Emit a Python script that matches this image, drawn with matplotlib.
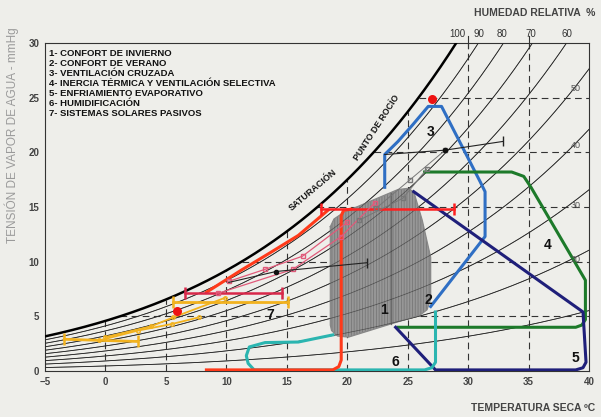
import numpy as np
import matplotlib
matplotlib.use("Agg")
import matplotlib.pyplot as plt
from matplotlib.patches import Polygon

plt.rcParams['font.family'] = ['Liberation Sans', 'DejaVu Sans']
plt.rcParams['hatch.linewidth'] = 0.6

# --- data --------------------------------------------------------------
x_ticks = [-5, 0, 5, 10, 15, 20, 25, 30, 35, 40]
y_ticks = [0, 5, 10, 15, 20, 25, 30]
rh_levels = [10, 20, 30, 40, 50, 60, 70, 80, 90]
rh_top_labels = ["100", "90", "80", "70", "60"]
rh_top_x = [29.1, 30.9, 32.8, 35.2, 38.2]
rh_side_labels = ["50", "40", "30", "20"]
rh_side_p = [25.8, 20.6, 15.1, 10.2]

legend_items = [
    "1- CONFORT DE INVIERNO",
    "2- CONFORT DE VERANO",
    "3- VENTILACIÓN CRUZADA",
    "4- INERCIA TÉRMICA Y VENTILACIÓN SELECTIVA",
    "5- ENFRIAMIENTO EVAPORATIVO",
    "6- HUMIDIFICACIÓN",
    "7- SISTEMAS SOLARES PASIVOS",
]

# comfort zone (1 + 2), outline T, p
comfort_T = [18.6, 18.9, 19.7, 24.2, 25.0, 25.5, 26.2, 26.9, 26.9, 26.6, 26.0, 23.6, 20.1, 19.2, 18.7, 18.6]
comfort_p = [13.2, 13.9, 14.5, 16.6, 16.7, 16.4, 13.8, 10.4, 6.6, 5.6, 5.1, 4.3, 3.1, 3.2, 3.7, 4.2]
comfort_split_T = 23.6

# zone 3 ventilacion cruzada (blue)
vent_T = [23.1, 23.1, 24.2, 25.4, 26.7, 27.8, 31.0, 31.4, 31.4, 26.9]
vent_p = [16.8, 19.8, 21.0, 22.5, 24.2, 24.2, 17.3, 16.4, 12.3, 5.9]

# zone 4 inercia termica (green)
inercia_T = [26.4, 33.6, 34.6, 35.2, 39.7, 39.7, 39.4, 38.9, 24.2]
inercia_p = [18.2, 18.2, 17.8, 16.8, 8.3, 4.7, 4.2, 4.0, 4.0]

# zone 5 enfriamiento evaporativo (navy)
evap_T = [25.5, 39.5, 39.75, 39.5, 38.9, 27.3, 24.0]
evap_p = [16.4, 5.4, 0.8, 0.3, 0.1, 0.1, 4.0]

# zone 6 humidificacion (teal)
humid_T = [18.8, 15.95, 13.2, 11.9, 11.65, 11.8, 12.3, 26.4, 27.0, 27.3, 27.3]
humid_p = [3.3, 2.65, 2.6, 2.2, 1.4, 0.7, 0.1, 0.1, 0.3, 0.8, 5.4]

# zone 7 sistemas solares pasivos (red)
solar_curve_T = [8.35, 11.2, 13.6, 15.95, 18.4]
solar_curve_p = [7.2, 9.2, 10.8, 12.4, 14.7]
solar_box_T = [8.35, 18.8, 19.3, 19.5, 19.5, 19.7, 20.3]
solar_box_p = [0.1, 0.1, 0.4, 1.0, 14.2, 14.7, 14.8]
solar_top_T = [17.85, 28.8]
solar_top_p = [14.8, 14.8]

# monthly climate lines
yellow_bars = [([-3.4, 2.7], [2.9, 2.7]), ([5.6, 15.1], [6.3, 6.3])]
yellow_lines = [([0.0, 3.8, 5.6, 9.9], [3.1, 4.1, 4.9, 6.7]),
                ([-0.5, 2.7, 5.5, 7.7], [2.8, 3.7, 4.3, 4.9])]
crimson_bars = [([6.6, 14.6], [7.1, 7.1])]
pink_lines = [([9.3, 15.5, 19.5, 22.3], [7.1, 9.3, 12.3, 15.4]),
              ([10.2, 13.2, 16.3, 20.0], [8.2, 9.3, 10.5, 13.6])]
black_lines = [([10.2, 14.1, 21.6], [8.1, 9.1, 9.9]),
               ([23.1, 28.1, 32.9], [19.8, 20.2, 21.0])]
gray_lines = [([22.4, 25.2, 28.1], [14.9, 17.5, 20.2]),
              ([21.0, 24.6, 26.6], [13.8, 15.8, 18.5])]

red_dots_T = [5.9, 27.0]
red_dots_p = [5.5, 24.9]

zone_labels = ["1", "2", "3", "4", "5", "6", "7"]
zone_T = [23.0, 26.7, 26.9, 36.6, 38.9, 24.0, 13.6]
zone_p = [5.6, 6.5, 21.9, 11.5, 1.2, 0.8, 5.1]


def psat(t):
    # saturation vapour pressure, mmHg
    return 0.750062 * 6.112 * np.exp(17.62 * t / (243.12 + t))


bg = '#eeeeea'
fig = plt.figure(figsize=(6.01, 4.17), dpi=100, facecolor=bg)
ax = fig.add_axes([0.0749, 0.1103, 0.9052, 0.7866], facecolor=bg)
ax.set_xlim(-5, 40)
ax.set_ylim(0, 30)

T = np.linspace(-5, 40, 400)
for rh in rh_levels:
    ax.plot(T, rh / 100 * psat(T), color='#222222', lw=0.6, zorder=2)
ax.plot(T, psat(T), color='black', lw=1.8, zorder=3)

# dashed grid under the saturation curve
for t in x_ticks[1:-1]:
    top = min(psat(t), 30)
    ax.plot([t, t], [0, top], color='#333333', lw=0.8, ls=(0, (6, 4)), zorder=2)
for t in [30, 35]:
    ax.plot([t, t], [29.5, 30.6], color='#333333', lw=0.8, clip_on=False, zorder=2)
for p in y_ticks[1:-1]:
    t0 = np.interp(p, psat(T), T)
    ax.plot([t0, 40], [p, p], color='#333333', lw=0.8, ls=(0, (6, 4)), zorder=2)

# comfort zones
ax.add_patch(Polygon(np.column_stack([comfort_T, comfort_p]), closed=True,
                     facecolor='#979797', edgecolor='none', zorder=4))
ax.add_patch(Polygon(np.column_stack([comfort_T, comfort_p]), closed=True,
                     facecolor='none', edgecolor='#777777', hatch='||||||', lw=0, zorder=4))
ax.plot(comfort_T + comfort_T[:1], comfort_p + comfort_p[:1], color='#888888', lw=0.9, zorder=4)
ax.plot([comfort_split_T, comfort_split_T], [4.3, 16.3], color='#6a6a6a', lw=0.9, zorder=4)

# RH lines show through the comfort zone
for rh in rh_levels:
    ax.plot(T, rh / 100 * psat(T), color='#222222', lw=0.5, alpha=0.6, zorder=4)

ax.plot(vent_T, vent_p, color='#2f6fc4', lw=2.2, zorder=6, solid_joinstyle='round')
ax.plot(inercia_T, inercia_p, color='#1d7a2a', lw=2.2, zorder=6, solid_joinstyle='round')
ax.plot(evap_T, evap_p, color='#1f1f7a', lw=2.2, zorder=6, solid_joinstyle='round')
ax.plot(humid_T, humid_p, color='#2bb5b0', lw=2.2, zorder=6, solid_joinstyle='round')
ax.plot(solar_curve_T, solar_curve_p, color='#ff3a1a', lw=2.2, zorder=6)
ax.plot(solar_box_T, solar_box_p, color='#ff3a1a', lw=2.2, zorder=6, solid_joinstyle='round')
ax.plot(solar_top_T, solar_top_p, color='#ff2020', lw=1.8, zorder=6,
        marker='|', markersize=9, markeredgewidth=1.8)

# monthly climate lines
for xs, ys in yellow_bars:
    ax.plot(xs, ys, color='#f2b21e', lw=2.0, zorder=7, marker='|', markersize=8, markeredgewidth=1.8)
for xs, ys in yellow_lines:
    ax.plot(xs, ys, color='#f2b21e', lw=1.3, zorder=7, marker='o', markersize=2.5, mfc='none')
for xs, ys in crimson_bars:
    ax.plot(xs, ys, color='#d8284a', lw=1.8, zorder=7, marker='|', markersize=8, markeredgewidth=1.8)
for xs, ys in pink_lines:
    ax.plot(xs, ys, color='#e05a7a', lw=0.9, zorder=7, marker='s', markersize=3, mfc='none')
for xs, ys in gray_lines:
    ax.plot(xs, ys, color='#777777', lw=0.7, zorder=7, marker='s', markersize=2.5, mfc='none')
for xs, ys in black_lines:
    ax.plot(xs, ys, color='#222222', lw=0.8, zorder=7)
    ax.plot(xs[-1], ys[-1], color='#222222', marker='|', markersize=7, zorder=7)
    ax.plot(xs[1], ys[1], color='#111111', marker='o', markersize=3, zorder=7)

ax.scatter(red_dots_T, red_dots_p, s=30, color='#ee1111', zorder=8)

for lab, t, p in zip(zone_labels, zone_T, zone_p):
    ax.text(t, p, lab, fontsize=10, fontweight='bold', color='#111111',
            ha='center', va='center', zorder=9)

ax.text(17.2, 16.6, "SATURACIÓN", fontsize=6.5, fontweight='bold', rotation=40,
        ha='center', va='center', color='#111111', zorder=9)
ax.text(22.4, 22.3, "PUNTO DE ROCÍO", fontsize=6.3, fontweight='bold', rotation=57,
        ha='center', va='center', color='#111111', zorder=9)

for lab, t in zip(rh_top_labels, rh_top_x):
    ax.text(t, 30.4, lab, fontsize=7, color='#333333', ha='center', va='bottom')
for lab, p in zip(rh_side_labels, rh_side_p):
    ax.text(39.3, p, lab, fontsize=6.5, color='#555555', ha='right', va='center', zorder=9)

ax.set_xticks(x_ticks)
ax.set_yticks(y_ticks)
ax.tick_params(length=0, labelsize=7, colors='#444444', pad=4)
for lbl in ax.get_xticklabels() + ax.get_yticklabels():
    lbl.set_fontweight('bold')
for s in ax.spines.values():
    s.set_color('#333333')
    s.set_linewidth(0.8)

legend_y = [53, 64, 74, 84, 94, 103, 113]
for txt, ypx in zip(legend_items, legend_y):
    fig.text(49 / 601, 1 - ypx / 417, txt, fontsize=6.8, fontweight='bold',
             color='#111111', va='center', ha='left')

fig.text(12 / 601, 1 - 135 / 417, "TENSIÓN DE VAPOR DE AGUA - mmHg", rotation=90,
         fontsize=8.5, color='#9a9a9a', ha='center', va='center')
fig.text(595 / 601, 1 - 13 / 417, "HUMEDAD RELATIVA  %", fontsize=7.5, fontweight='bold',
         color='#444444', ha='right', va='center')
fig.text(595 / 601, 1 - 408 / 417, "TEMPERATURA SECA ºC", fontsize=7.5, fontweight='bold',
         color='#444444', ha='right', va='center')

fig.savefig("out.png", dpi=100, facecolor=bg)
